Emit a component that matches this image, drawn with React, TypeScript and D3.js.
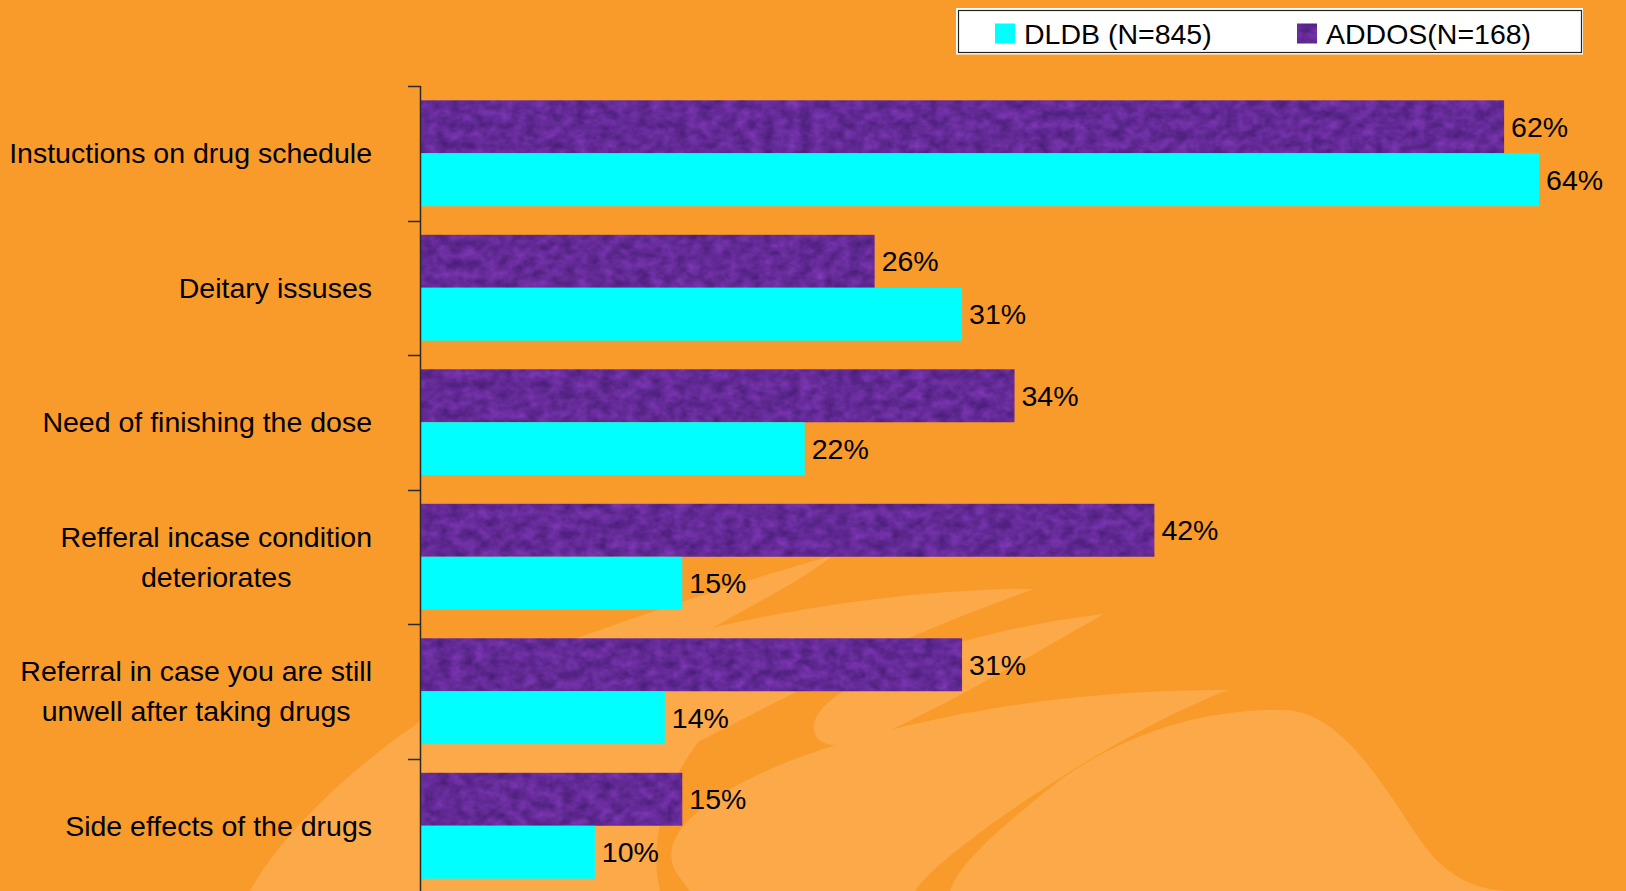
import React from "react";
import * as d3 from "d3";

const categoryLines: string[][] = [
  ["Instuctions on drug schedule"],
  ["Deitary issuses"],
  ["Need of finishing the dose"],
  ["Refferal incase condition", "deteriorates"],
  ["Referral in case you are still", "unwell after taking drugs"],
  ["Side effects of the drugs"],
];
const categories = categoryLines.map((l) => l.join(" "));
const addosValues = [62, 26, 34, 42, 31, 15];
const dldbValues = [64, 31, 22, 15, 14, 10];
const seriesNames = ["ADDOS(N=168)", "DLDB (N=845)"];
const legendOrder = ["DLDB (N=845)", "ADDOS(N=168)"];

const W = 1626;
const H = 891;
const FONT = '"Liberation Sans", Arial, sans-serif';
const FS = 28.5;
const BG = "#F99B2B";
const LIGHT = "#FCAA49";
const CYAN = "#00FFFF";
const PURPLE = "#602C94";

let ctx: CanvasRenderingContext2D | null = null;
function measure(t: string): number {
  if (!ctx) {
    const c = document.createElement("canvas");
    ctx = c.getContext("2d");
  }
  if (!ctx) return t.length * FS * 0.5;
  ctx.font = `${FS}px "Liberation Sans", Arial, sans-serif`;
  return ctx.measureText(t).width;
}

export default function App() {
  const x = d3.scaleLinear().domain([0, 70]).range([420, 1644]);
  const y = d3.scaleBand<string>().domain(categories).range([86, 893]);
  const inner = d3
    .scaleBand<string>()
    .domain(seriesNames)
    .range([0, y.bandwidth()])
    .paddingOuter(0.27)
    .paddingInner(0);
  const values: Record<string, number[]> = {
    [seriesNames[0]]: addosValues,
    [seriesNames[1]]: dldbValues,
  };
  const isPurple = (s: string) => s === seriesNames[0];
  const labelRight = 372;
  const lineGap = 40;
  const ticks = categories.map((c) => y(c) as number).concat([y.range()[1]]);

  return (
    <svg
      width={W}
      height={H}
      style={{ position: "fixed", left: 0, top: 0, display: "block" }}
      fontFamily={FONT}
    >
      <defs>
        <filter id="tex" x="0" y="0" width="1" height="1" colorInterpolationFilters="sRGB">
          <feTurbulence type="fractalNoise" baseFrequency="0.08 0.1" numOctaves={3} seed={11} result="n" />
          <feColorMatrix
            in="n"
            type="matrix"
            values="0.26 0 0 0 0.26  0.13 0 0 0 0.1  0.3 0 0 0 0.44  0 0 0 0 1"
            result="c"
          />
          <feComposite in="c" in2="SourceGraphic" operator="in" />
        </filter>
      </defs>
      <rect x={0} y={0} width={W} height={H} fill={BG} />
      {/* decorative background swoosh */}
      <g fill={LIGHT}>
        <path d="M 250 891 C 300 800, 450 680, 600 630 C 700 595, 780 570, 832 556 C 790 590, 710 625, 650 665 C 570 720, 480 800, 430 891 Z" />
        <path d="M 400 891 C 450 810, 540 740, 640 690 L 700 740 C 660 790, 650 850, 660 891 Z" />
        <path d="M 590 665 C 700 620, 900 588, 1034 589 C 960 615, 880 648, 800 690 C 720 730, 660 765, 620 770 C 590 740, 585 700, 590 665 Z" />
        <path d="M 814 725 C 820 685, 950 632, 1104 614 C 1040 650, 960 698, 880 735 C 840 752, 812 748, 814 725 Z" />
        <path d="M 680 878 C 650 840, 700 795, 800 757 C 950 705, 1100 690, 1228 690 C 1150 720, 1060 775, 990 825 C 950 855, 925 875, 915 891 L 690 891 Z" />
        <path d="M 950 891 C 960 860, 1010 820, 1060 780 C 1130 730, 1210 708, 1285 710 C 1340 712, 1380 780, 1420 840 C 1445 875, 1470 888, 1505 891 Z" />
      </g>
      {/* bars */}
      {seriesNames.map((s) =>
        categories.map((c, i) => {
          const v = values[s][i];
          const by = (y(c) as number) + (inner(s) as number);
          const bh = inner.bandwidth();
          return (
            <g key={s + c}>
              <rect
                x={x(0)}
                y={by}
                width={x(v) - x(0)}
                height={bh}
                fill={isPurple(s) ? PURPLE : CYAN}
                filter={isPurple(s) ? "url(#tex)" : undefined}
              />
              <text x={x(v) + 7} y={by + bh / 2} dy="0.35em" fontSize={FS} fill="#000">
                {v}%
              </text>
            </g>
          );
        })
      )}
      {/* axis */}
      <line x1={420.5} x2={420.5} y1={ticks[0]} y2={H} stroke="#2a2a2a" strokeWidth={1.5} />
      {ticks.map((t, i) => (
        <line
          key={i}
          x1={408}
          x2={420.5}
          y1={Math.round(t) + 0.5}
          y2={Math.round(t) + 0.5}
          stroke="#2a2a2a"
          strokeWidth={1.5}
        />
      ))}
      {/* category labels */}
      {categoryLines.map((lines, i) => {
        const cy = (y(categories[i]) as number) + y.bandwidth() / 2;
        const bw = Math.max(...lines.map(measure));
        const cx = labelRight - bw / 2;
        return (
          <text key={i} fontSize={FS} fill="#000" textAnchor="middle">
            {lines.map((ln, j) => (
              <tspan key={j} x={cx} y={cy + (j - (lines.length - 1) / 2) * lineGap} dy="0.35em">
                {ln}
              </tspan>
            ))}
          </text>
        );
      })}
      {/* legend */}
      <rect x={956} y={8} width={627} height={46.5} fill="#fff" />
      <rect x={958.5} y={10.5} width={623} height={42} fill="none" stroke="#222" strokeWidth={1.2} />
      {legendOrder.map((s, i) => {
        const lx = i === 0 ? 995 : 1297;
        return (
          <g key={s}>
            <rect
              x={lx}
              y={23.5}
              width={20}
              height={20}
              fill={s === seriesNames[0] ? PURPLE : CYAN}
              filter={s === seriesNames[0] ? "url(#tex)" : undefined}
            />
            <text x={lx + 29} y={43.5} fontSize={FS} fill="#000">
              {s}
            </text>
          </g>
        );
      })}
    </svg>
  );
}
